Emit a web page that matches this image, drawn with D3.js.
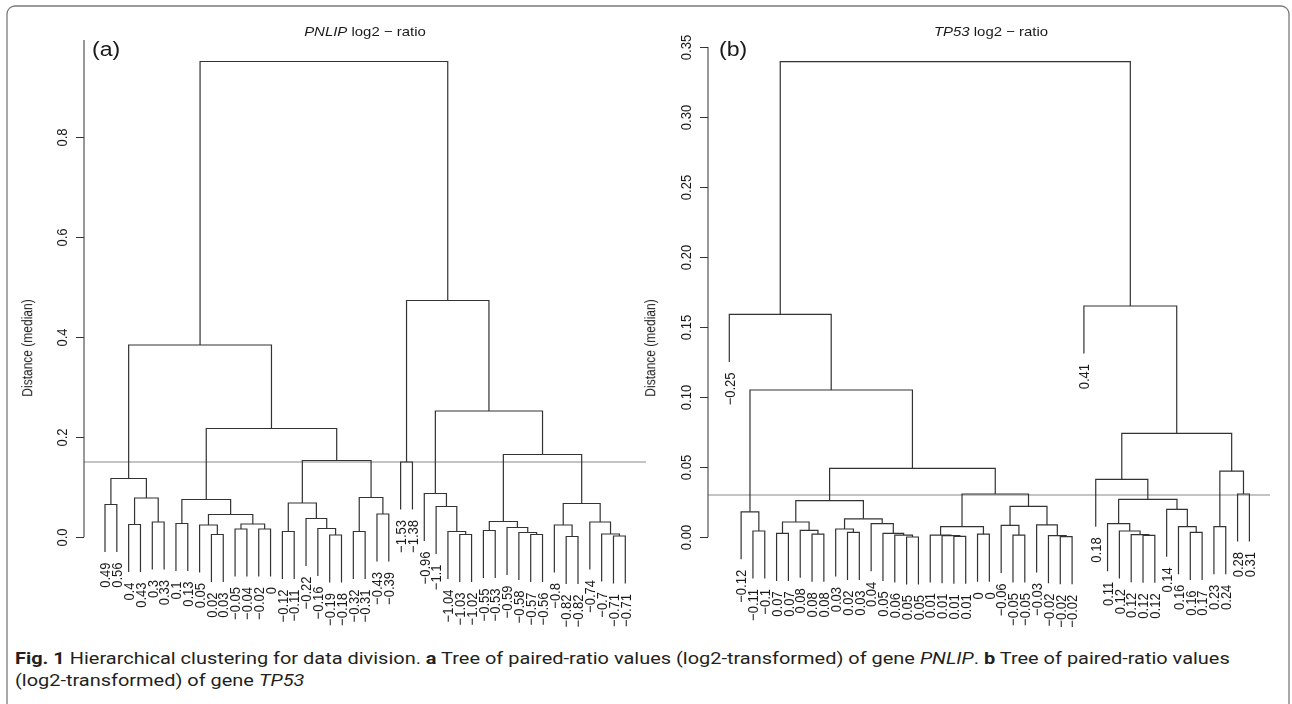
<!DOCTYPE html>
<html>
<head>
<meta charset="utf-8">
<script src="https://cdn.jsdelivr.net/npm/d3@7"></script>
<style>
  body { margin: 0; background: #fff; }
  svg text { font-family: "Liberation Sans", Arial, Helvetica, sans-serif; fill: #1a1a1a; }
  .caption text { font-family: Roboto, "Open Sans", sans-serif; fill: #231f20; }
</style>
</head>
<body>
<svg id="chart" width="1292" height="704"></svg>
<script>
// (a) PNLIP: leaf labels in dendrogram order, R-style merge matrix, merge heights
const leftLabels = [0.49, 0.56, 0.4, 0.43, 0.3, 0.33, 0.1, 0.13, 0.05, 0.02, 0.03, -0.05, -0.04, -0.02, 0,
  -0.12, -0.11, -0.22, -0.16, -0.19, -0.18, -0.32, -0.31, -0.43, -0.39, -1.53, -1.38, -0.96, -1.1,
  -1.04, -1.03, -1.02, -0.55, -0.53, -0.59, -0.58, -0.57, -0.56, -0.8, -0.82, -0.82, -0.74, -0.7, -0.71, -0.71];
const leftMerge = [[-1, -2], [-3, -4], [-5, -6], [2, 3], [1, 4], [-7, -8], [-10, -11], [-9, 7], [-12, -13],
  [-14, -15], [9, 10], [8, 11], [6, 12], [-16, -17], [-20, -21], [-19, 15], [-18, 16], [14, 17], [-22, -23],
  [-24, -25], [19, 20], [18, 21], [13, 22], [5, 23], [-26, -27], [-31, -32], [-30, 26], [-29, 27], [-28, 28],
  [-33, -34], [-37, -38], [-36, 31], [-35, 32], [30, 33], [-40, -41], [-39, 35], [-44, -45], [-43, 37],
  [-42, 38], [36, 39], [34, 40], [29, 41], [25, 42], [24, 43]];
const leftHeights = [0.065, 0.025, 0.03, 0.078, 0.117, 0.027, 0.005, 0.024, 0.016, 0.016, 0.026, 0.045, 0.075,
  0.011, 0.004, 0.017, 0.037, 0.068, 0.011, 0.046, 0.079, 0.153, 0.217, 0.384, 0.15, 0.005, 0.011, 0.061, 0.087,
  0.013, 0.005, 0.009, 0.019, 0.031, 0.001, 0.024, 0.002, 0.006, 0.03, 0.067, 0.165, 0.252, 0.473, 0.951];
const leftTicks = [0, 0.2, 0.4, 0.6, 0.8];
const leftCut = 0.15;

// (b) TP53
const rightLabels = [-0.25, -0.12, -0.11, -0.1, 0.07, 0.07, 0.08, 0.08, 0.08, 0.03, 0.02, 0.03, 0.04, 0.05, 0.06,
  0.05, 0.05, 0.01, 0.01, 0.01, 0.01, 0, 0, -0.06, -0.05, -0.05, -0.03, -0.02, -0.02, -0.02, 0.41, 0.18, 0.11,
  0.12, 0.12, 0.12, 0.12, 0.14, 0.16, 0.16, 0.17, 0.23, 0.24, 0.28, 0.31];
const rightMerge = [[-3, -4], [-2, 1], [-5, -6], [-8, -9], [-7, 4], [3, 5], [-11, -12], [-10, 7], [-16, -17],
  [-15, 9], [-14, 10], [-13, 11], [8, 12], [6, 13], [-20, -21], [-19, 15], [-18, 16], [-22, -23], [17, 18],
  [-25, -26], [-24, 20], [-29, -30], [-28, 22], [-27, 23], [21, 24], [19, 25], [14, 26], [2, 27], [-1, 28],
  [-36, -37], [-35, 30], [-34, 31], [-33, 32], [-40, -41], [-39, 34], [-38, 35], [33, 36], [-32, 37],
  [-42, -43], [-44, -45], [39, 40], [38, 41], [-31, 42], [29, 43]];
const rightHeights = [0.0043, 0.018, 0.0026, 0.002, 0.0048, 0.0107, 0.0033, 0.0057, 0.0, 0.0014, 0.0026, 0.0095,
  0.013, 0.026, 0.0005, 0.001, 0.0014, 0.002, 0.0074, 0.0014, 0.0083, 0.0002, 0.001, 0.0086, 0.0219, 0.0307,
  0.049, 0.105, 0.159, 0.0012, 0.0017, 0.0043, 0.0095, 0.0033, 0.0074, 0.0198, 0.0269, 0.0412, 0.0074, 0.0307,
  0.047, 0.074, 0.165, 0.3395];
const rightTicks = [0, 0.05, 0.1, 0.15, 0.2, 0.25, 0.3, 0.35];
const rightCut = 0.03;

const stretch = 1.15;   // the figure is slightly wider than tall
const lineColor = '#333';
const svg = d3.select('#chart');

// frame
svg.append('rect')
    .attr('x', 7).attr('y', 6)
    .attr('width', 1282).attr('height', 720)
    .attr('rx', 8)
    .style('fill', 'none')
    .style('stroke', '#7a7a7a')
    .style('stroke-width', 1.3);

const minus = v => String(v).replace('-', '\u2212');

function drawPanel(opts) {
  const {labels, merge, heights, ticks, cut, x, y, axisX, plotRight, plotTop, fmt, gene, letter, letterX, titleX, ylabX} = opts;
  // opacity < 1 keeps the rotated text on grayscale antialiasing
  const g = svg.append('g').style('opacity', 0.999);
  const hang = 0.1 * d3.max(heights);

  // cut line
  g.append('line')
      .attr('x1', axisX).attr('x2', plotRight)
      .attr('y1', y(cut)).attr('y2', y(cut))
      .style('stroke', '#c4c4c4')
      .style('stroke-width', 2);

  // tree
  const nodeX = [];
  const leaves = [];
  const childX = c => c < 0 ? x(-c) : nodeX[c - 1];
  merge.forEach((pair, i) => {
    const h = heights[i];
    const bottom = c => c < 0 ? h - hang : heights[c - 1];
    pair.forEach(c => { if (c < 0) leaves.push({i: -c, h: h - hang}); });
    const [a, b] = pair;
    const xa = childX(a), xb = childX(b);
    nodeX[i] = (xa + xb) / 2;
    g.append('path')
        .attr('d', `M${xa},${y(bottom(a))}V${y(h)}H${xb}V${y(bottom(b))}`)
        .style('fill', 'none')
        .style('stroke', lineColor)
        .style('stroke-width', 1.2);
  });

  g.selectAll('.leaf-label')
    .data(leaves)
    .enter().append('text')
      .attr('class', 'leaf-label')
      .attr('text-anchor', 'end')
      .attr('dy', '0.35em')
      .attr('font-size', 13)
      .attr('transform', d => `translate(${x(d.i)},${y(d.h) + 10.5}) rotate(-90) scale(1,${stretch})`)
      .text(d => minus(labels[d.i - 1]));

  // y axis
  const axis = g.append('g')
      .attr('transform', `translate(${axisX},0)`)
      .call(d3.axisLeft(y).tickValues(ticks).tickSize(8).tickSizeOuter(0).tickFormat(d3.format(fmt)));
  axis.select('.domain').remove();
  axis.append('line')
      .attr('y1', y(0)).attr('y2', plotTop)
      .style('stroke', lineColor);
  axis.selectAll('.tick line').style('stroke', lineColor);
  axis.selectAll('.tick text')
      .attr('x', null).attr('dy', null)
      .attr('text-anchor', 'middle')
      .attr('font-size', 13)
      .attr('font-family', '"Liberation Sans", Arial, sans-serif')
      .style('fill', '#1a1a1a')
      .attr('transform', `translate(-17,0) rotate(-90) scale(1,${stretch})`);

  g.append('text')
      .attr('font-size', 12)
      .attr('text-anchor', 'middle')
      .attr('transform', `translate(${ylabX},348) rotate(-90) scale(1,${stretch})`)
      .text('Distance (median)');

  // title
  const title = g.append('text')
      .attr('font-size', 13)
      .attr('text-anchor', 'middle')
      .attr('transform', `translate(${titleX},35.5) scale(${stretch},1)`);
  title.append('tspan').attr('font-style', 'italic').text(gene);
  title.append('tspan').text(' log2 \u2212 ratio');

  g.append('text')
      .attr('font-size', 21)
      .attr('transform', `translate(${letterX},56) scale(1.1,1)`)
      .text(letter);
}

const leafIdx = d3.range(1, leftLabels.length + 1);

drawPanel({
  labels: leftLabels, merge: leftMerge, heights: leftHeights, ticks: leftTicks, cut: leftCut,
  x: d3.scaleLinear().domain(d3.extent(leafIdx)).range([105, 625.3]),
  y: d3.scaleLinear().domain([0, 1]).range([537, 37]),
  axisX: 84, plotRight: 646, plotTop: 40, fmt: '.1f',
  gene: 'PNLIP', letter: '(a)', letterX: 92, titleX: 365, ylabX: 32
});

drawPanel({
  labels: rightLabels, merge: rightMerge, heights: rightHeights, ticks: rightTicks, cut: rightCut,
  x: d3.scaleLinear().domain(d3.extent(leafIdx)).range([729.3, 1249.4]),
  y: d3.scaleLinear().domain([0, 0.35]).range([537, 47]),
  axisX: 708, plotRight: 1270, plotTop: 47, fmt: '.2f',
  gene: 'TP53', letter: '(b)', letterX: 719, titleX: 991, ylabX: 655
});

// caption: both lines share one horizontal squeeze, fitted to the first line
const captionLines = [
  [['Fig. 1', 'bold'], [' Hierarchical clustering for data division. ', null], ['a', 'bold'],
   [' Tree of paired-ratio values (log2-transformed) of gene ', null], ['PNLIP', 'italic'], ['. ', null],
   ['b', 'bold'], [' Tree of paired-ratio values', null]],
  [['(log2-transformed) of gene ', null], ['TP53', 'italic']]
];
const capWidth = 1216;
const cap = svg.append('g').attr('class', 'caption').style('opacity', 0.999);
const inner = cap.append('g');
const capNodes = captionLines.map((parts, k) => {
  const t = inner.append('text')
      .attr('x', 0).attr('y', k === 0 ? 664 : 686)
      .attr('font-size', 16.5);
  parts.forEach(([s, st]) => {
    const sp = t.append('tspan').text(s);
    if (st === 'bold') sp.attr('font-weight', 'bold');
    if (st === 'italic') sp.attr('font-style', 'italic');
  });
  return t;
});
const squeeze = capWidth / capNodes[0].node().getComputedTextLength();
inner.attr('transform', `translate(15,0) scale(${squeeze},1)`);
</script>
</body>
</html>
